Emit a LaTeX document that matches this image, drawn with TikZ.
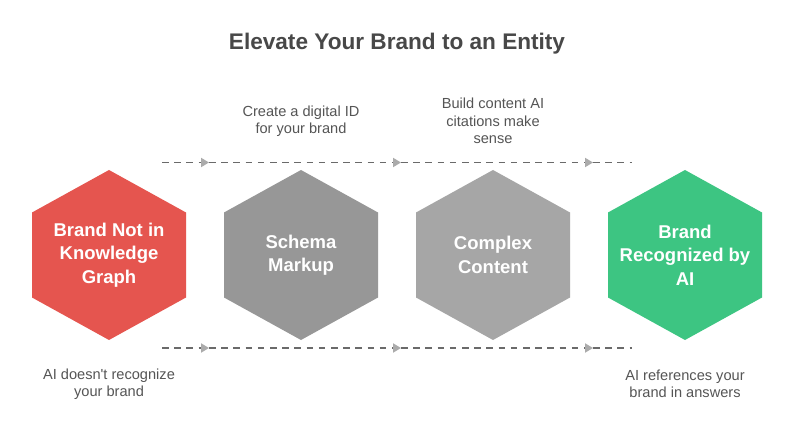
\documentclass[tikz,border=0pt]{standalone}
\usepackage{fontspec}
\setmainfont{Liberation Sans}[Ligatures=TeXOff]
\usetikzlibrary{arrows.meta}
\definecolor{hexred}{HTML}{E5554F}
\definecolor{hexgrayA}{HTML}{979797}
\definecolor{hexgrayB}{HTML}{A6A6A6}
\definecolor{hexgreen}{HTML}{3DC582}
\definecolor{titlecol}{HTML}{484848}
\definecolor{labelcol}{HTML}{555555}
\definecolor{dashcol}{HTML}{6A6A6A}
\definecolor{tipcol}{HTML}{ABABAB}
\tikzset{
  hexlabel/.style={text=white, align=center, font=\fontsize{18.5}{23.3}\selectfont\bfseries, inner sep=0pt},
  desc/.style={text=labelcol, align=center, font=\fontsize{14.6}{17.3}\selectfont, inner sep=0pt},
  conn/.style={draw=dashcol, line width=1.8pt, dash pattern=on 6.5pt off 5.7pt},
  connarrow/.style={conn, -{Triangle[length=8pt,width=9pt,color=tipcol]}},
}
\newcommand{\hexat}[2]{%
  \fill[#2] (#1,170) -- ({#1+77},212.5) -- ({#1+77},297.5) -- (#1,340) -- ({#1-77},297.5) -- ({#1-77},212.5) -- cycle;}
\begin{document}
\begin{tikzpicture}[x=1pt,y=-1pt]
\useasboundingbox (0,0) rectangle (794,427);
\fill[white] (0,0) rectangle (794,427);
% title
\node[text=titlecol, font=\fontsize{22.6}{26}\selectfont\bfseries, inner sep=0pt] (title) at (397,43.5) {Elevate Your Brand to an Entity};
% hexagons
\hexat{109}{hexred}
\hexat{301}{hexgrayA}
\hexat{493}{hexgrayB}
\hexat{685}{hexgreen}
\node[hexlabel] (h1) at (109,255) {Brand Not in\\Knowledge\\Graph};
\node[hexlabel] (h2) at (301,255) {Schema\\Markup};
\node[hexlabel] (h3) at (493,255) {Complex\\Content};
\node[hexlabel] (h4) at (685,255) {Brand\\Recognized by\\AI};
% descriptions
\node[desc] (d2) at (301,121.5) {Create a digital ID\\for your brand};
\node[desc] (d3) at (493,121) {Build content AI\\citations make\\sense};
\node[desc] (d1) at (109,384) {AI doesn't recognize\\your brand};
\node[desc] (d4) at (685,384) {AI references your\\brand in answers};
% connectors top
\coordinate (t0) at (162,162.5);
\coordinate (t1) at (209,162.5);
\coordinate (t2) at (401,162.5);
\coordinate (t3) at (593,162.5);
\coordinate (t4) at (632,162.5);
\draw[connarrow] (t0) -- (t1);
\draw[connarrow] (t1) -- (t2);
\draw[connarrow] (t2) -- (t3);
\draw[conn] (t3) -- (t4);
% connectors bottom
\coordinate (b0) at (162,348);
\coordinate (b1) at (209,348);
\coordinate (b2) at (401,348);
\coordinate (b3) at (593,348);
\coordinate (b4) at (632,348);
\draw[connarrow] (b0) -- (b1);
\draw[connarrow] (b1) -- (b2);
\draw[connarrow] (b2) -- (b3);
\draw[conn] (b3) -- (b4);
\end{tikzpicture}
\end{document}
